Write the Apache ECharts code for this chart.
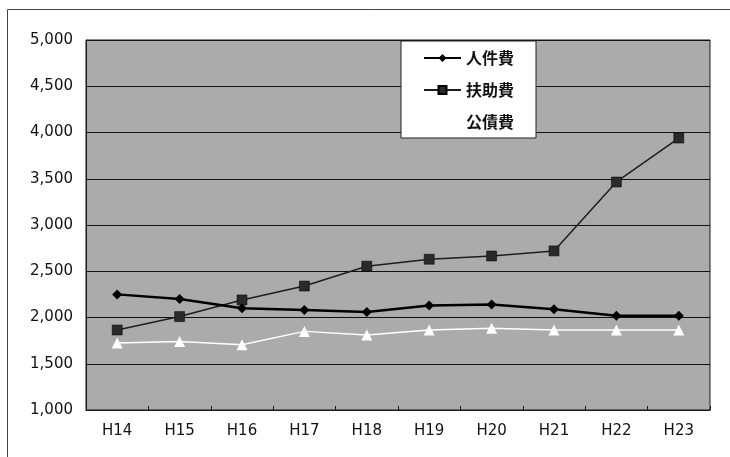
<!DOCTYPE html>
<html>
<head>
<meta charset="utf-8">
<title>人件費・扶助費・公債費の推移</title>
<script src="https://cdn.jsdelivr.net/npm/echarts@6/dist/echarts.min.js"></script>
<style>
  html, body { margin: 0; padding: 0; background: #ffffff; }
  #chart { width: 730px; height: 457px; }
</style>
</head>
<body>
<div id="chart"></div>
<script>
// Fiscal years (Heisei era)
const categories = ['H14', 'H15', 'H16', 'H17', 'H18', 'H19', 'H20', 'H21', 'H22', 'H23'];

// Expenditure by type
const personnelCost = [2250, 2200, 2100, 2080, 2060, 2130, 2140, 2090, 2020, 2020];   // 人件費
const assistanceCost = [1865, 2010, 2190, 2340, 2555, 2630, 2665, 2720, 3465, 3940];  // 扶助費
const debtService = [1725, 1740, 1705, 1850, 1810, 1865, 1885, 1865, 1865, 1865];     // 公債費

const seriesNames = ['人件費', '扶助費', '公債費'];

// Value axis range and step
const yMin = 1000;
const yMax = 5000;
const yStep = 500;

const chart = echarts.init(document.getElementById('chart'), null, { renderer: 'canvas' });

const labelFont = '"DejaVu Sans", "Liberation Sans", sans-serif';
const cjkFont = '"Noto Sans CJK JP", "Noto Sans CJK SC", sans-serif';

chart.setOption({
  animation: false,
  backgroundColor: '#ffffff',
  graphic: [
    // page frame (left and top edges)
    { type: 'line', shape: { x1: 7.5, y1: 9.5, x2: 7.5, y2: 457 }, style: { stroke: '#444', lineWidth: 1 } },
    { type: 'line', shape: { x1: 7.5, y1: 9.5, x2: 730, y2: 9.5 }, style: { stroke: '#444', lineWidth: 1 } }
  ],
  grid: {
    left: 86, right: 20, top: 40, bottom: 47,
    show: true,
    backgroundColor: '#ababab',
    borderColor: '#1a1a1a',
    borderWidth: 1
  },
  legend: {
    orient: 'vertical',
    left: 401, top: 41,
    backgroundColor: '#ffffff',
    borderColor: '#222222',
    borderWidth: 1,
    padding: [9, 22, 8, 22],
    itemWidth: 37,
    itemHeight: 10,
    itemGap: 16,
    textStyle: { fontFamily: cjkFont, fontSize: 16, lineHeight: 16, color: '#111', fontWeight: 'bold' },
    data: seriesNames
  },
  xAxis: {
    type: 'category',
    data: categories,
    boundaryGap: true,
    axisLine: { show: true, lineStyle: { color: '#1a1a1a', width: 1 } },
    axisTick: { show: true, inside: true, length: 4, lineStyle: { color: '#1a1a1a' } },
    axisLabel: { margin: 14, color: '#111', fontFamily: labelFont, fontSize: 15 },
    splitLine: { show: false }
  },
  yAxis: {
    type: 'value',
    min: yMin, max: yMax, interval: yStep,
    axisLine: { show: true, lineStyle: { color: '#1a1a1a', width: 1 } },
    axisTick: { show: false },
    axisLabel: {
      margin: 13, color: '#111', fontFamily: labelFont, fontSize: 15,
      formatter: v => v.toLocaleString('en-US')
    },
    splitLine: { show: true, lineStyle: { color: '#111', width: 1 } }
  },
  series: [
    {
      name: seriesNames[0],
      type: 'line',
      data: personnelCost,
      symbol: 'diamond',
      symbolSize: 10,
      lineStyle: { color: '#000', width: 2.5 },
      itemStyle: { color: '#000' },
      z: 4
    },
    {
      name: seriesNames[1],
      type: 'line',
      data: assistanceCost,
      symbol: 'rect',
      symbolSize: 10,
      lineStyle: { color: '#1e1e1e', width: 1.5 },
      itemStyle: { color: '#2a2a2a', borderColor: '#000', borderWidth: 0.5 },
      z: 3
    },
    {
      name: seriesNames[2],
      type: 'line',
      data: debtService,
      symbol: 'triangle',
      symbolSize: 11,
      lineStyle: { color: '#ffffff', width: 1.5 },
      itemStyle: { color: '#ffffff' },
      z: 2
    }
  ]
});
</script>
</body>
</html>
